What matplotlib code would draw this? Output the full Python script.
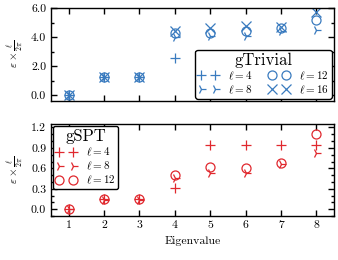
import matplotlib
matplotlib.use("Agg")
import matplotlib.pyplot as plt
from matplotlib.ticker import MultipleLocator

plt.rcParams['font.family'] = ['cmr10']
plt.rcParams['mathtext.fontset'] = 'cm'
plt.rcParams['axes.formatter.use_mathtext'] = True

eig = [1, 2, 3, 4, 5, 6, 7, 8]

# gTrivial
triv_l4 = [0.0, 1.22, 1.22, 2.55, 2.6, 2.6, 2.6, 2.6]
triv_l8 = [0.0, 1.22, 1.22, 4.0, 4.1, 4.1, 4.45, 4.5]
triv_l12 = [0.0, 1.22, 1.22, 4.25, 4.3, 4.4, 4.6, 5.2]
triv_l16 = [0.0, 1.22, 1.22, 4.45, 4.6, 4.75, 4.7, 5.7]

# gSPT
spt_l4 = [0.0, 0.15, 0.15, 0.31, 0.94, 0.94, 0.94, 0.94]
spt_l8 = [0.0, 0.14, 0.14, 0.46, 0.53, 0.53, 0.66, 0.82]
spt_l12 = [0.0, 0.15, 0.15, 0.50, 0.62, 0.61, 0.68, 1.11]

blue = '#3a7bbf'
red = '#e0282e'

fig = plt.figure(figsize=(3.38, 2.60), dpi=100)
ax1 = fig.add_axes([0.151, 0.612, 0.837, 0.357])
ax2 = fig.add_axes([0.151, 0.169, 0.837, 0.354])

ms = 7
lw = 0.9
ax1.plot(eig, triv_l4, ls='none', marker='+', ms=ms, mew=lw, color=blue, label=r'$\ell=4$')
ax1.plot(eig, triv_l8, ls='none', marker='4', ms=ms, mew=lw, color=blue, label=r'$\ell=8$')
ax1.plot(eig, triv_l12, ls='none', marker='o', ms=6.5, mew=lw, mfc='none', color=blue, label=r'$\ell=12$')
ax1.plot(eig, triv_l16, ls='none', marker='x', ms=ms, mew=lw, color=blue, label=r'$\ell=16$')

ax2.plot(eig, spt_l4, ls='none', marker='+', ms=ms, mew=lw, color=red, label=r'$\ell=4$')
ax2.plot(eig, spt_l8, ls='none', marker='4', ms=ms, mew=lw, color=red, label=r'$\ell=8$')
ax2.plot(eig, spt_l12, ls='none', marker='o', ms=6.5, mew=lw, mfc='none', color=red, label=r'$\ell=12$')

ax1.set_ylim(-0.4, 6.0)
ax1.set_xlim(0.5, 8.5)
ax1.set_yticks([0, 2, 4, 6])
ax1.set_yticklabels(['0.0', '2.0', '4.0', '6.0'])
ax1.yaxis.set_minor_locator(MultipleLocator(1.0))
ax1.set_xticks(eig)
ax1.set_xticklabels([])

ax2.set_ylim(-0.1, 1.25)
ax2.set_xlim(0.5, 8.5)
ax2.set_yticks([0.0, 0.3, 0.6, 0.9, 1.2])
ax2.set_yticklabels(['0.0', '0.3', '0.6', '0.9', '1.2'])
ax2.yaxis.set_minor_locator(MultipleLocator(0.1))
ax2.set_xticks(eig)
ax2.set_xticklabels([str(e) for e in eig])
ax2.set_xlabel('Eigenvalue', fontsize=8.5)

for ax in (ax1, ax2):
    ax.tick_params(which='both', direction='in', top=True, right=True, labelsize=8.5, width=1.0)
    ax.tick_params(which='major', length=4)
    ax.tick_params(which='minor', length=2.5)
    ax.set_ylabel(r'$\varepsilon\times\frac{\ell}{2\pi}$', fontsize=8)
    for s in ax.spines.values():
        s.set_linewidth(1.0)

leg1 = ax1.legend(title='gTrivial', loc='lower right', ncol=2, numpoints=2, fontsize=8,
                  title_fontsize=12, frameon=True, fancybox=True, framealpha=1,
                  edgecolor='black', handlelength=1.8, handletextpad=0.9,
                  columnspacing=1.5, borderpad=0.25, labelspacing=0.15,
                  borderaxespad=0.2)
leg1.get_frame().set_linewidth(1.0)
leg1.set_zorder(10)

leg2 = ax2.legend(title='gSPT', loc='upper left', ncol=1, numpoints=2, fontsize=8,
                  title_fontsize=12, frameon=True, fancybox=True, framealpha=1,
                  edgecolor='black', handlelength=1.8, handletextpad=0.9,
                  borderpad=0.25, labelspacing=0.15, borderaxespad=0.2)
leg2.get_frame().set_linewidth(1.0)
leg2.set_zorder(10)

fig.align_ylabels([ax1, ax2])
fig.savefig('out.png', dpi=100)
